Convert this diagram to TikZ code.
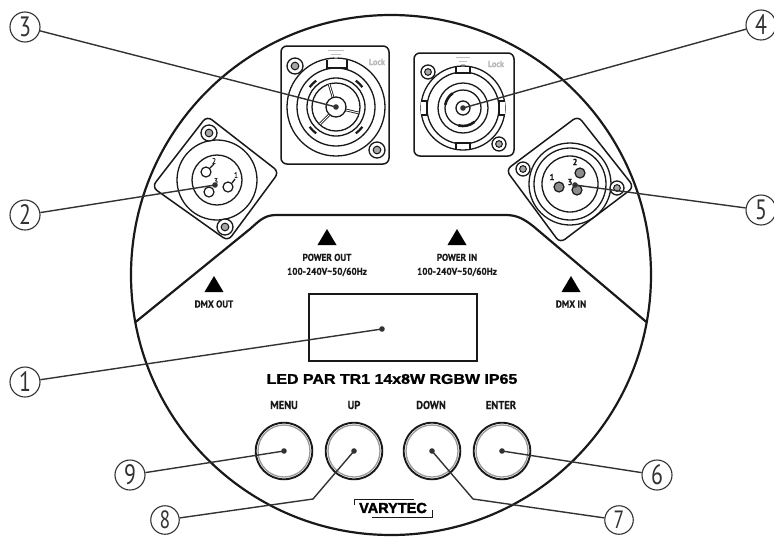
\documentclass[tikz,border=0pt]{standalone}
\usepackage{fontspec}
\setmainfont{PT Sans}
\newfontfamily\numfont[FakeStretch=0.78]{PT Sans}
\newfontfamily\labfont[FakeStretch=0.92,FakeBold=0.3]{PT Sans}
\newfontfamily\titlefont[FakeStretch=1.14,FakeBold=1.5]{Liberation Sans}
\newfontfamily\logofont[FakeStretch=1.0,FakeBold=2]{Liberation Sans}
\definecolor{ink}{RGB}{25,25,25}
\definecolor{lead}{RGB}{50,50,50}
\tikzset{
  callout/.style={circle,draw=lead,line width=1.1pt,minimum size=30pt,inner sep=0pt,fill=white,
    font=\numfont\fontsize{28}{28}\selectfont,text=lead},
  calloutlow/.style={callout,minimum size=28.5pt,font=\numfont\fontsize{25}{25}\selectfont},
  leader/.style={draw=lead,line width=1.4pt},
  outline/.style={draw=ink,line width=2.2pt},
  part/.style={draw=ink,line width=1.3pt},
  plate/.style={draw=ink,line width=1.5pt,rounded corners=6pt,fill=white},
  lab/.style={font=\labfont\bfseries\fontsize{10}{14}\selectfont,text=ink,align=center,inner sep=0pt},
  btnlab/.style={font=\labfont\bfseries\fontsize{11.5}{12}\selectfont,text=ink,inner sep=0pt},
  tri/.style={fill=black},
  xpin/.style={draw=ink,line width=1.2pt,fill=white},
  fpin/.style={draw=ink,line width=1.2pt,fill=black!45},
  pinnum/.style={font=\labfont\fontsize{8}{8}\selectfont,text=ink,inner sep=0pt},
  pinnumb/.style={font=\labfont\bfseries\fontsize{9}{9}\selectfont,text=ink,inner sep=0pt},
  faint/.style={font=\labfont\bfseries\fontsize{9}{9}\selectfont,text=black!28,inner sep=0pt}
}
\newcommand{\screwat}[3]{%
  \draw[part,fill=white] (#1,#2) circle (#3);
  \draw[draw=ink,line width=1pt,fill=black!35] (#1,#2) circle (#3*0.48);
}
\newcommand{\triat}[2]{\fill[tri] (#1,#2) -- (#1-9.5,#2+16) -- (#1+9.5,#2+16) -- cycle;}
\newcommand{\buttonat}[1]{%
  \draw[draw=ink,line width=1.9pt] (#1,451) circle (28.3);
  \draw[draw=black!40,line width=1.3pt] (#1,451) circle (26);
}
\begin{document}
\begin{tikzpicture}[x=1pt,y=-1pt]
\useasboundingbox (0,0) rectangle (774,536);
% housing
\draw[outline] (391,275) circle (260);
\draw[outline,line join=round] (135.6,322) -- (250,229) .. controls (258,222) and (264,215) .. (276,215)
  -- (506,215) .. controls (518,215) and (525,220) .. (533,226) -- (646.4,322);
% left XLR
\draw[plate] (207,116) -- (279,172) -- (228,241) -- (152,187) -- cycle;
\draw[part] (217,180) circle (40);
\draw[part] (217,180) circle (25);
\screwat{209}{133}{8}
\screwat{225}{227}{8}
\draw[xpin] (206,172) circle (5);
\draw[xpin] (228,187) circle (5);
\draw[xpin] (209,192) circle (5);
\draw[part] (210,168) -- (214,164);
\draw[part] (232,183) -- (235,179);
\node[pinnum] at (214,161) {2};
\node[pinnum] at (236,175) {1};
\node[pinnum] at (216,181) {3};
% power out
\draw[plate] (281,46) rectangle (389,164);
\screwat{295}{66}{8}
\screwat{377}{150}{8}
\draw[part] (336,107) circle (49);
\draw[part] (336,107) circle (39);
\draw[part] (336,107) circle (29);
\draw[part] (336,107) circle (24);
\draw[part,fill=white] (327,60) -- (327,68) -- (347,68) -- (347,60);
\draw[draw=ink,line width=2.6pt] (329,84) -- (333,97);
\draw[draw=ink,line width=2.6pt] (359,113) -- (346,110);
\draw[draw=ink,line width=2.6pt] (320,124) -- (329,115);
\draw[draw=white,line width=0.9pt] (329,84) -- (333,97) (359,113) -- (346,110) (320,124) -- (329,115);
\begin{scope}[shift={(336,107)}]
\foreach \a in {45,135,225,315}
  \draw[draw=ink,line width=2.2pt] (\a-8:33) arc (\a-8:\a+8:33);
\end{scope}
\draw[part,fill=white] (336,107) circle (10);
\draw[draw=black!25,line width=1pt] (328,50) -- (344,50) (331,54) -- (341,54) (334,57) -- (338,57);
\node[faint] at (377,62) {Lock};
% power in
\draw[plate] (414,53) rectangle (514,156);
\screwat{428}{72}{7}
\screwat{499}{144}{7}
\draw[part] (463,108) circle (42);
\draw[part] (463,108) circle (36);
\draw[part] (463,108) circle (25);
\draw[part] (463,108) circle (18);
\begin{scope}[shift={(463,108)}]
\draw[draw=ink,line width=2.6pt] (235:18) arc (235:190:18);
\draw[draw=ink,line width=2.6pt] (105:18) arc (105:50:18);
\end{scope}
\draw[part,fill=white] (456,67) -- (456,73) -- (470,73) -- (470,67);
\draw[part,fill=white] (421,101) -- (427,101) -- (427,115) -- (421,115);
\draw[part,fill=white] (505,101) -- (499,101) -- (499,115) -- (505,115);
\draw[part,fill=white] (456,149) -- (456,143) -- (470,143) -- (470,149);
\draw[part] (463,108) circle (7);
\draw[draw=black!25,line width=1pt] (456,57) -- (470,57) (459,61) -- (467,61) (461,64) -- (465,64);
\node[faint] at (496,64) {Lock};
% right XLR
\draw[plate] (578,116) -- (634,187) -- (560,243) -- (506,170) -- cycle;
\draw[part] (570,184) circle (41);
\draw[part] (570,184) circle (36);
\draw[part] (570,184) circle (28);
\screwat{523}{169}{7}
\screwat{617}{188}{7}
\draw[fpin] (559,187) circle (5);
\draw[fpin] (580,173) circle (5);
\draw[fpin] (577,190) circle (5);
\node[pinnumb] at (552,177) {1};
\node[pinnumb] at (575,162) {2};
\node[pinnumb] at (570,182) {3};
% display
\draw[draw=ink,line width=1.9pt] (309,294) rectangle (477,361);
% marks and labels
\triat{327}{229}
\triat{457}{229}
\triat{214}{276}
\triat{571}{276}
\node[lab] (lpo) at (327,265) {POWER OUT\\100-240V\textasciitilde 50/60Hz};
\node[lab] (lpi) at (457,265) {POWER IN\\100-240V\textasciitilde 50/60Hz};
\node[lab] (ldo) at (214,304) {DMX OUT};
\node[lab] (ldi) at (571,304) {DMX IN};
\node[inner sep=0pt,font=\titlefont\bfseries\fontsize{14}{16}\selectfont,text=black] (title) at (392,379) {LED PAR TR1 14x8W RGBW IP65};
\node[btnlab] (lmenu) at (284,405) {MENU};
\node[btnlab] (lup) at (354,405) {UP};
\node[btnlab] (ldown) at (431,405) {DOWN};
\node[btnlab] (lenter) at (501,405) {ENTER};
% buttons
\buttonat{284}
\buttonat{354}
\buttonat{432}
\buttonat{502}
% logo
\node[inner sep=0pt,font=\logofont\bfseries\fontsize{14.5}{15}\selectfont,text=black] (logo) at (393,508) {VARYTEC};
\draw[draw=ink,line width=1pt] (354,505) -- (354,499) -- (414,499);
\draw[draw=ink,line width=1pt] (372,517) -- (432,517) -- (432,510);
% callouts
\node[callout] (c3) at (25,27) {3};
\node[callout] (c2) at (25,215) {2};
\node[callout] (c4) at (761,25) {4};
\node[callout] (c5) at (761,210) {5};
\node[callout] (c1) at (25,382) {1};
\node[callout] (c9) at (130,475) {9};
\node[calloutlow] (c8) at (165,520) {8};
\node[callout] (c6) at (657,475) {6};
\node[calloutlow] (c7) at (619,520) {7};
\coordinate (t3) at (336,107);
\coordinate (t2) at (215,185);
\coordinate (t4) at (463,108);
\coordinate (t5) at (575,185);
\coordinate (t1) at (382,329);
\coordinate (t9) at (284,451);
\coordinate (t8) at (354,451);
\coordinate (t7) at (432,451);
\coordinate (t6) at (502,451);
\coordinate (e8) at (313,499);
\coordinate (e7) at (473,499);
\draw[leader] (c3) -- (t3);
\draw[leader] (c2) -- (t2);
\draw[leader] (c4) -- (t4);
\draw[leader] (c5) -- (t5);
\draw[leader] (c1) -- (t1);
\draw[leader] (c9) -- (t9);
\draw[leader] (c8) -- (e8) -- (t8);
\draw[leader] (c7) -- (e7) -- (t7);
\draw[leader] (c6) -- (t6);
\foreach \p in {t1,t2,t3,t4,t5,t6,t7,t8,t9} \fill[lead] (\p) circle (2.8);
\end{tikzpicture}
\end{document}
